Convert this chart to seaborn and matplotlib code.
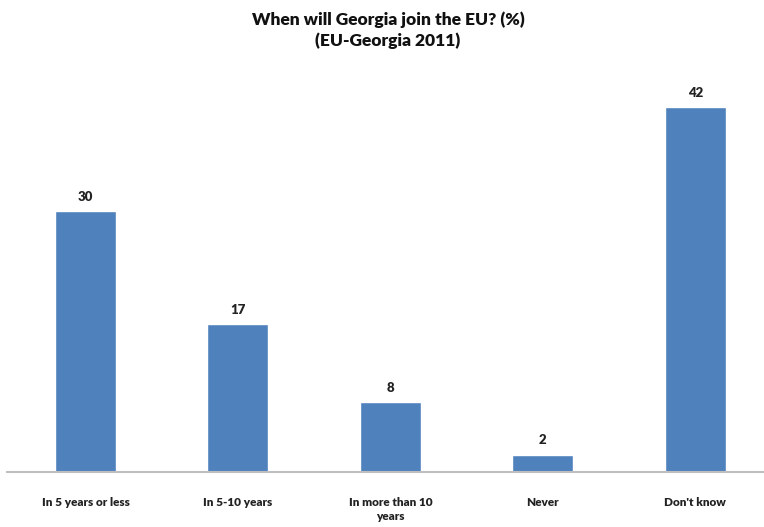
import matplotlib
matplotlib.use("Agg")
import matplotlib.pyplot as plt
import seaborn as sns
import pandas as pd

categories = ["In 5 years or less", "In 5-10 years", "In more than 10\nyears", "Never", "Don't know"]
values = [30, 17, 8, 2, 42]
title = "When will Georgia join the EU? (%)\n(EU-Georgia 2011)"

sns.set_theme(style="white")
plt.rcParams['font.family'] = ['Lato', 'DejaVu Sans']

df = pd.DataFrame({"cat": categories, "val": values})

fig = plt.figure(figsize=(7.64, 5.27), dpi=100)
ax = fig.add_axes([7/764, 55/527, 1 - 7/764, 0.7913])
sns.barplot(data=df, x="cat", y="val", color="#4F81BD", saturation=1, width=0.4, ax=ax)
ax.set_xlim(-0.515, 4.45)
ax.set_ylim(0, 48)
ax.set_xlabel("")
ax.set_ylabel("")
ax.set_yticks([])
for s in ["top", "right", "left"]:
    ax.spines[s].set_visible(False)
ax.spines["bottom"].set_color("#BFBFBF")
ax.spines["bottom"].set_linewidth(1.5)
ax.tick_params(axis="x", length=0, pad=18, labelsize=8.5)
for lbl in ax.get_xticklabels():
    lbl.set_fontweight("heavy")
    lbl.set_color("#222222")
    lbl.set_linespacing(1.3)
for c in ax.containers:
    ax.bar_label(c, labels=[str(v) for v in values], padding=6, fontsize=9.5, fontweight="heavy", color="#222222")
fig.text(0.508, 0.978, title, ha="center", va="top", fontsize=12.5, fontweight="heavy", linespacing=1.35, color="#111111")
fig.savefig("out.png", dpi=100)
